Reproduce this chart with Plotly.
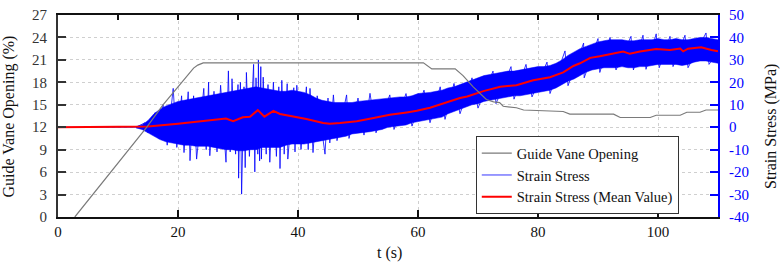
import plotly.graph_objects as go

# ---------------- data ----------------
# Guide vane opening (%) vs time (s)
guide_t = [2.8, 14.8, 17.5, 22.6, 23.3, 24.2, 60.9, 62.3, 66.2, 67.5, 69.2,
           71.4, 72.6, 73.6, 74.2, 76.4, 77.6, 84.2, 85.3, 92.6, 93.7,
           98.7, 99.7, 103.7, 104.8, 107.0, 108.0, 110.0]
guide_v = [0, 12, 15, 19.9, 20.3, 20.6, 20.6, 19.8, 19.8, 18.9, 17.4,
           15.7, 15.4, 15.3, 14.8, 14.6, 14.3, 14.1, 13.75, 13.75, 13.3,
           13.3, 13.6, 13.6, 14.0, 14.0, 14.3, 14.3]

# Strain stress: dense core band (upper/lower envelope), sampled each second 13..110 s
env_t = list(range(13, 111))
env_upper = [0.3, 1, 3, 6, 8, 9.5, 10.5, 11.5, 12, 12.5,
             13, 13.5, 14, 14.5, 15, 15.5, 16, 16.5, 17, 17.5,
             18, 17.5, 17, 16.5, 16, 16, 16.5, 16, 15.5, 14.5,
             13, 12, 11.5, 11, 11, 11, 11, 11.5, 11.8, 12,
             12.3, 12.6, 13, 13, 13.5, 13.5, 14, 15, 15.2, 15.5,
             16, 16.5, 17.5, 18, 19, 20, 21, 22, 23, 23.5,
             24, 24.5, 25, 25, 25.5, 26, 26.5, 27, 27, 27.5,
             28.5, 30, 32, 33.5, 35, 36, 37, 38, 38.5, 39,
             39, 39, 38.5, 38.5, 39, 39, 39, 39.5, 39, 39,
             39.5, 39, 39, 39.5, 40, 40, 39.5, 39]
env_lower = [-0.3, -1, -2.5, -4, -5.5, -6.5, -7, -7.5, -8, -8,
             -8.5, -8.5, -8.5, -9, -9.5, -10, -10, -10.5, -10.5, -10,
             -10, -9, -9, -9, -9, -8, -7.5, -7.5, -7.5, -7,
             -6.5, -6, -5.5, -5, -4.5, -4, -3, -2.5, -2.3, -2,
             -1.5, -1, 0, 0.3, 0.5, 1, 2, 2.5, 3, 3.5,
             4, 4.5, 6, 7, 8, 9, 10, 10.5, 11.5, 12,
             12.5, 13, 13.5, 14, 14, 14.5, 15, 15.5, 16, 16.5,
             17.5, 19, 20.5, 21.5, 23, 24.5, 25.5, 26, 26.5, 26.5,
             26.5, 27, 26.5, 26.5, 27, 27, 27.5, 28, 28, 28,
             28, 27.5, 28, 29, 29.5, 29.5, 29, 28.5]

# Strain stress: individual peaks (alternating high / low) sticking out of the band
peak_t = [0, 13, 14.5, 15.0, 16.2, 16.8, 17.5, 18.2, 19.2, 19.8,
          20.6, 21.0, 21.7, 22.0, 22.6, 23.1, 24.3, 24.7, 25.1, 25.3,
          26.0, 26.5, 27.1, 28.0, 28.4, 28.7, 29.0, 29.6, 30.0, 30.1,
          30.4, 30.6, 31.0, 31.2, 31.4, 31.9, 32.6, 32.8, 33.0, 33.3,
          33.4, 33.6, 33.8, 33.9, 34.2, 34.7, 35.0, 35.3, 35.9, 36.4,
          36.8, 37.0, 37.3, 37.7, 38.2, 38.3, 39.3, 39.5, 39.8, 40.5,
          41.4, 41.7, 42.0, 42.5, 43.2, 44.5, 45.0, 45.3, 45.9, 46.5,
          48.1, 48.5, 50.0, 51.0, 52.0, 53.0, 55.3, 56.0, 58.0, 59.0,
          61.0, 62.0, 63.7, 64.5, 66.0, 67.0, 69.0, 70.0, 72.5, 73.0,
          75.5, 76.0, 78.0, 79.0, 81.5, 82.0, 84.5, 85.0, 87.6, 87.7,
          90.0, 90.3, 92.0, 93.0, 95.5, 95.9, 97.5, 98.0, 99.7, 100.2,
          102.0, 102.5, 104.5, 105.0, 108.0, 108.5, 110.0]
peak_v = [0, 0, 2, -2.5, 6.5, -5, 10, -8, 17.3, -9,
          14, -11.3, 15.8, -14.9, 14, -14.2, 17.3, -10, 20.1, -12.7,
          16, -11, 18.7, -15.6, 25.1, -11, 21.6, -12, 19, -22.7,
          20, -29.8, 18, -18, 24.4, -13, 28, -19.9, 22, -12,
          29.9, -15, 27, -14.2, 22.3, -12, 19, -15.6, 20.1, -13,
          18, -18.4, 20.9, -12, 19.4, -14.2, 17.6, -11, 18.7, -9.9,
          18, -10, 17.3, -11.3, 14, -12, 13, -7, 14.4, -6,
          14.4, -5, 13, -3.5, 15.1, -2.5, 14.4, -1, 15, 0.5,
          16.5, 2, 18, 3.5, 19.5, 6, 22, 8.5, 25, 10.5,
          27, 12.5, 28, 13.5, 29, 15, 34, 18.5, 37.5, 22,
          39.5, 24.4, 40, 25.5, 40.5, 25.5, 41, 25.8, 41.6, 26.5,
          40.5, 27, 41, 26.5, 42, 28, 33.8]

# Strain stress mean value (MPa)
mean_t = [0, 13, 15, 20, 25, 28, 29.2, 30.8, 32, 33.3,
          34.4, 35.9, 37, 38.7, 39.8, 41.4, 44.2, 45.3, 47, 49.8,
          52.6, 55.3, 58.1, 59.8, 62, 64.8, 67, 68.2, 70.9, 73.7,
          76.4, 79.2, 82, 84.2, 85.9, 87, 88.7, 90.3, 92.6, 94.2,
          95.3, 97, 99.7, 102, 103.7, 104.2, 105, 107.2, 108.9, 110]
mean_v = [0, 0, 0.3, 1.6, 3.0, 3.9, 2.7, 4.4, 4.7, 7.6,
          4.7, 7.3, 5.9, 5.1, 4.4, 3.7, 1.9, 1.6, 1.9, 2.7,
          4.1, 5.6, 6.6, 7.3, 8.7, 11.3, 13.0, 13.7, 16.1, 18.0,
          18.7, 20.9, 22.3, 24.4, 27.3, 28.5, 30.9, 31.6, 33.0, 33.7,
          32.7, 33.7, 34.9, 34.4, 35.1, 33.8, 35.0, 35.6, 34.4, 33.8]

x_ticks = [0, 20, 40, 60, 80, 100]
x_top_ticks = [0, 10, 20, 30, 40, 50, 60, 70, 80, 90, 100, 110]
left_ticks = [0, 3, 6, 9, 12, 15, 18, 21, 24, 27]
right_ticks = [-40, -30, -20, -10, 0, 10, 20, 30, 40, 50]
right_tick_text = ["-40", "-30", "-20", "-10", "0", "10", "20", "30", "40", "50"]

# ---------------- figure ----------------
FONT = "Liberation Serif"
fig = go.Figure()

fig.add_trace(go.Scatter(x=env_t, y=env_lower, mode="lines",
                         line=dict(color="#0000ff", width=0.5),
                         showlegend=False, hoverinfo="skip",
                         xaxis="x", yaxis="y"))
fig.add_trace(go.Scatter(x=env_t, y=env_upper, mode="lines", fill="tonexty",
                         fillcolor="#0000ff", line=dict(color="#0000ff", width=0.5),
                         showlegend=False, hoverinfo="skip",
                         xaxis="x", yaxis="y"))
fig.add_trace(go.Scatter(x=peak_t, y=peak_v, mode="lines",
                         line=dict(color="#0000ff", width=0.8),
                         name="Strain Stress", legendrank=2,
                         xaxis="x", yaxis="y"))
fig.add_trace(go.Scatter(x=mean_t, y=mean_v, mode="lines",
                         line=dict(color="#ff0000", width=2),
                         name="Strain Stress (Mean Value)", legendrank=3,
                         xaxis="x", yaxis="y"))
fig.add_trace(go.Scatter(x=guide_t, y=guide_v, mode="lines",
                         line=dict(color="#7a7a7a", width=1.2),
                         name="Guide Vane Opening", legendrank=1,
                         xaxis="x2", yaxis="y2"))

grid = dict(showgrid=True, gridcolor="#cfcfcf", griddash="dot", gridwidth=1)

fig.update_layout(
    width=782, height=265,
    margin=dict(l=58, r=64, t=7, b=48),
    paper_bgcolor="white", plot_bgcolor="white",
    font=dict(family=FONT, size=15, color="#222222"),
    showlegend=True,
    legend=dict(x=0.633, y=0.40, xanchor="left", yanchor="top",
                traceorder="normal",
                bgcolor="white", bordercolor="#333333", borderwidth=1,
                font=dict(family=FONT, size=14.5, color="#111111"),
                tracegroupgap=0, itemwidth=30),
    xaxis=dict(range=[0, 110], tickvals=x_ticks, ticks="inside", ticklen=7,
               tickwidth=1.5, tickcolor="#111111", showline=True,
               linecolor="#111111", linewidth=1.5, zeroline=False,
               tickfont=dict(family=FONT, size=15, color="#111111"),
               ticklabeloverflow="allow", **grid),
    xaxis2=dict(range=[0, 110], overlaying="x", side="top", anchor="y2",
                tickvals=x_top_ticks, ticks="inside", ticklen=5, tickwidth=1.5,
                tickcolor="#111111", showticklabels=False, showline=True,
                linecolor="#111111", linewidth=1.5, showgrid=False, zeroline=False),
    yaxis=dict(range=[-40, 50], side="right", tickvals=right_ticks,
               ticktext=right_tick_text,
               ticks="inside", ticklen=8, tickwidth=2, tickcolor="#0000ff",
               showline=True, linecolor="#0000ff", linewidth=2, zeroline=False,
               tickfont=dict(family=FONT, size=15, color="#0000ff"),
               ticklabelstandoff=6, ticklabeloverflow="allow", **grid),
    yaxis2=dict(range=[0, 27], side="left", overlaying="y", anchor="x2",
                tickvals=left_ticks, ticks="inside", ticklen=8, tickwidth=2,
                tickcolor="#333333", showline=True, linecolor="#333333",
                linewidth=2, showgrid=False, zeroline=False,
                tickfont=dict(family=FONT, size=15, color="#333333"),
                ticklabelstandoff=6, ticklabeloverflow="allow"),
    annotations=[
        dict(text="Guide Vane Opening (%)", x=-0.0735, y=0.5, xref="paper",
             yref="paper", textangle=-90, showarrow=False, xanchor="center",
             yanchor="middle", font=dict(family=FONT, size=16, color="#111111")),
        dict(text="Strain Stress (MPa)", x=1.080, y=0.45, xref="paper",
             yref="paper", textangle=-90, showarrow=False, xanchor="center",
             yanchor="middle", font=dict(family=FONT, size=16, color="#111111")),
        dict(text="t (s)", x=0.503, y=-0.18, xref="paper", yref="paper",
             showarrow=False, xanchor="center", yanchor="middle",
             font=dict(family=FONT, size=16, color="#111111")),
    ],
)

fig.write_html("out.html", config={"displayModeBar": False},
               post_script="document.body.style.margin='0';document.body.style.padding='0';")
